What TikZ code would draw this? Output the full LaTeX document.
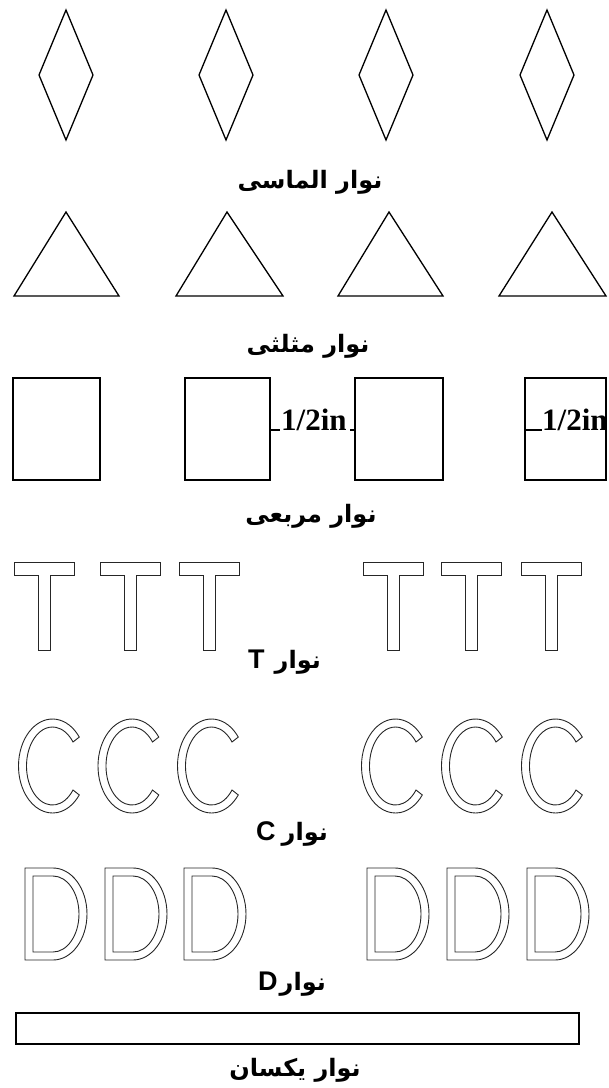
\documentclass[tikz,border=0pt]{standalone}
\usepackage{fontspec}
\setmainfont{Liberation Serif}
\setsansfont{Liberation Sans}
\newfontfamily\arabicfont[Script=Arabic]{DejaVu Sans}
\TeXXeTstate=1
\begin{document}
\begin{tikzpicture}[x=1pt,y=-1pt,
  shape line/.style={draw=black,line width=1.3pt,line join=miter},
  letter/.style={draw=black!85,line width=0.9pt,fill=white},
  fa label/.style={font=\arabicfont\bfseries\fontsize{24}{28}\selectfont,inner sep=0pt},
  half/.style={font=\bfseries\fontsize{31}{34}\selectfont,inner sep=0pt,anchor=base west},
  tick/.style={draw=black,line width=1.3pt},
  Tl/.pic={\draw[letter] (0,0) -- (60,0) -- (60,13) -- (36,13) -- (36,88) -- (24,88) -- (24,13) -- (0,13) -- cycle;},
  Cl/.pic={\draw[letter] (-38:34 and 47) arc[start angle=-38,end angle=-322,x radius=34,y radius=47]
           -- (-322:26 and 39) arc[start angle=-322,end angle=-38,x radius=26,y radius=39] -- cycle;},
  Dl/.pic={\draw[letter] (0,0) -- (28,0) arc[start angle=-90,end angle=90,x radius=34,y radius=46] -- (0,92) -- cycle;
           \draw[letter] (8,8) -- (28,8) arc[start angle=-90,end angle=90,x radius=26,y radius=38] -- (8,84) -- cycle;}
]
\useasboundingbox (0,0) rectangle (609,1088);

% diamonds
\foreach \cx/\n in {66/1,226/2,386/3,547/4}{
  \draw[shape line] (\cx,10) -- (\cx+27,75) -- (\cx,140) -- (\cx-27,75) -- cycle;
}
\node[fa label] (l1) at (310,182) {\beginR نوار الماسی\endR};

% triangles
\draw[shape line] (14,296) -- (66,212) -- (119,296) -- cycle;
\draw[shape line] (176,296) -- (227,212) -- (283,296) -- cycle;
\draw[shape line] (338,296) -- (389,212) -- (443,296) -- cycle;
\draw[shape line] (499,296) -- (552,212) -- (606,296) -- cycle;
\node[fa label] (l2) at (308,346) {\beginR نوار مثلثی\endR};

% squares
\draw[shape line] (13,378) rectangle (100,480);
\draw[shape line] (185,378) rectangle (270,480);
\draw[shape line] (355,378) rectangle (443,480);
\draw[shape line] (525,378) rectangle (606,480);
\coordinate (t1a) at (270,430); \coordinate (t1b) at (280,430);
\draw[tick] (t1a) -- (t1b);
\node[half] (h1) at (281,430) {1/2in};
\coordinate (t2a) at (350,430); \coordinate (t2b) at (355,430);
\draw[tick] (t2a) -- (t2b);
\coordinate (t3a) at (525,430); \coordinate (t3b) at (542,430);
\draw[tick] (t3a) -- (t3b);
\node[half] (h2) at (542,430) {1/2in};
\node[fa label] (l3) at (311,516) {\beginR نوار مربعی\endR};

% T letters
\foreach \x in {14,100,179,363,441,521}{ \pic at (\x,562) {Tl}; }
\node[inner sep=0pt,anchor=base west] (l4) at (248,668)
  {{\sffamily\bfseries\fontsize{27}{30}\selectfont T}\hspace{10pt}{\arabicfont\bfseries\fontsize{24}{28}\selectfont\beginR نوار\endR}};

% C letters
\foreach \x in {52.5,132,211.5,395.5,475.5,555.5}{ \pic at (\x,766) {Cl}; }
\node[inner sep=0pt,anchor=base west] (l5) at (256,840)
  {{\sffamily\bfseries\fontsize{27}{30}\selectfont C}\hspace{6pt}{\arabicfont\bfseries\fontsize{24}{28}\selectfont\beginR نوار\endR}};

% D letters
\foreach \x in {25,105,184,367,447,527}{ \pic at (\x,868) {Dl}; }
\node[inner sep=0pt,anchor=base west] (l6) at (258,990)
  {{\sffamily\bfseries\fontsize{27}{30}\selectfont D}\hspace{2pt}{\arabicfont\bfseries\fontsize{24}{28}\selectfont\beginR نوار\endR}};

% uniform strip
\draw[shape line] (16,1013) rectangle (579,1044);
\node[fa label] (l7) at (295,1070) {\beginR نوار یکسان\endR};
\end{tikzpicture}
\end{document}
